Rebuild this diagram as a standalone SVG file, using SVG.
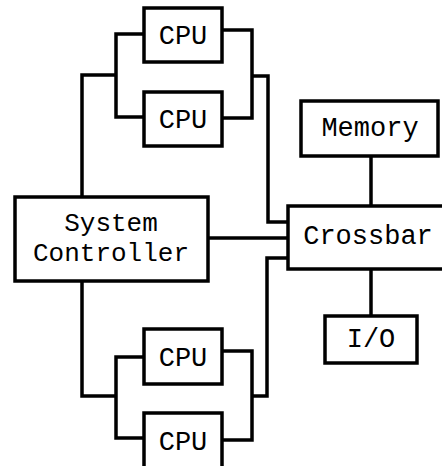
<svg xmlns="http://www.w3.org/2000/svg" width="442" height="466" viewBox="0 0 442 466">
<style>
.box{fill:#fff;stroke:#000;stroke-width:3.5}
.wire{fill:none;stroke:#000;stroke-width:3.5;stroke-linejoin:miter}
text{font-family:"Liberation Mono","Courier New",monospace;font-size:27px;fill:#000;text-anchor:middle}
text.two{font-size:26px}
</style>
<rect width="442" height="466" fill="#fff"/>
<g id="connectors" class="wire">
<path d="M144,34 H116 V117 H144"/>
<path d="M116,75 H82 V196"/>
<path d="M222,30 H252 V118 H222"/>
<path d="M252,76 H268 V222 H288"/>
<path d="M207,238 H288"/>
<path d="M288,258 H267 V396 H252"/>
<path d="M222,351 H252 V440 H222"/>
<path d="M82,281 V396 H116"/>
<path d="M144,357 H116 V438 H144"/>
<path d="M371,156 V206"/>
<path d="M371,268 V316"/>
</g>
<g id="cpu1"><rect class="box" x="144" y="8" width="78" height="54"/><text x="183" y="44">CPU</text></g>
<g id="cpu2"><rect class="box" x="144" y="92" width="78" height="54"/><text x="183" y="128">CPU</text></g>
<g id="cpu3"><rect class="box" x="144" y="329" width="78" height="55"/><text x="183" y="366">CPU</text></g>
<g id="cpu4"><rect class="box" x="144" y="413" width="78" height="55"/><text x="183" y="450">CPU</text></g>
<g id="system-controller"><rect class="box" x="15" y="197" width="193" height="84"/><text class="two" x="111" y="231">System</text><text class="two" x="111" y="261">Controller</text></g>
<g id="crossbar"><rect class="box" x="288" y="206" width="160" height="63"/><text x="368" y="244">Crossbar</text></g>
<g id="memory"><rect class="box" x="301" y="101" width="137" height="55"/><text x="370" y="136">Memory</text></g>
<g id="io"><rect class="box" x="325" y="316" width="92" height="47"/><text x="371" y="347">I/O</text></g>
</svg>
